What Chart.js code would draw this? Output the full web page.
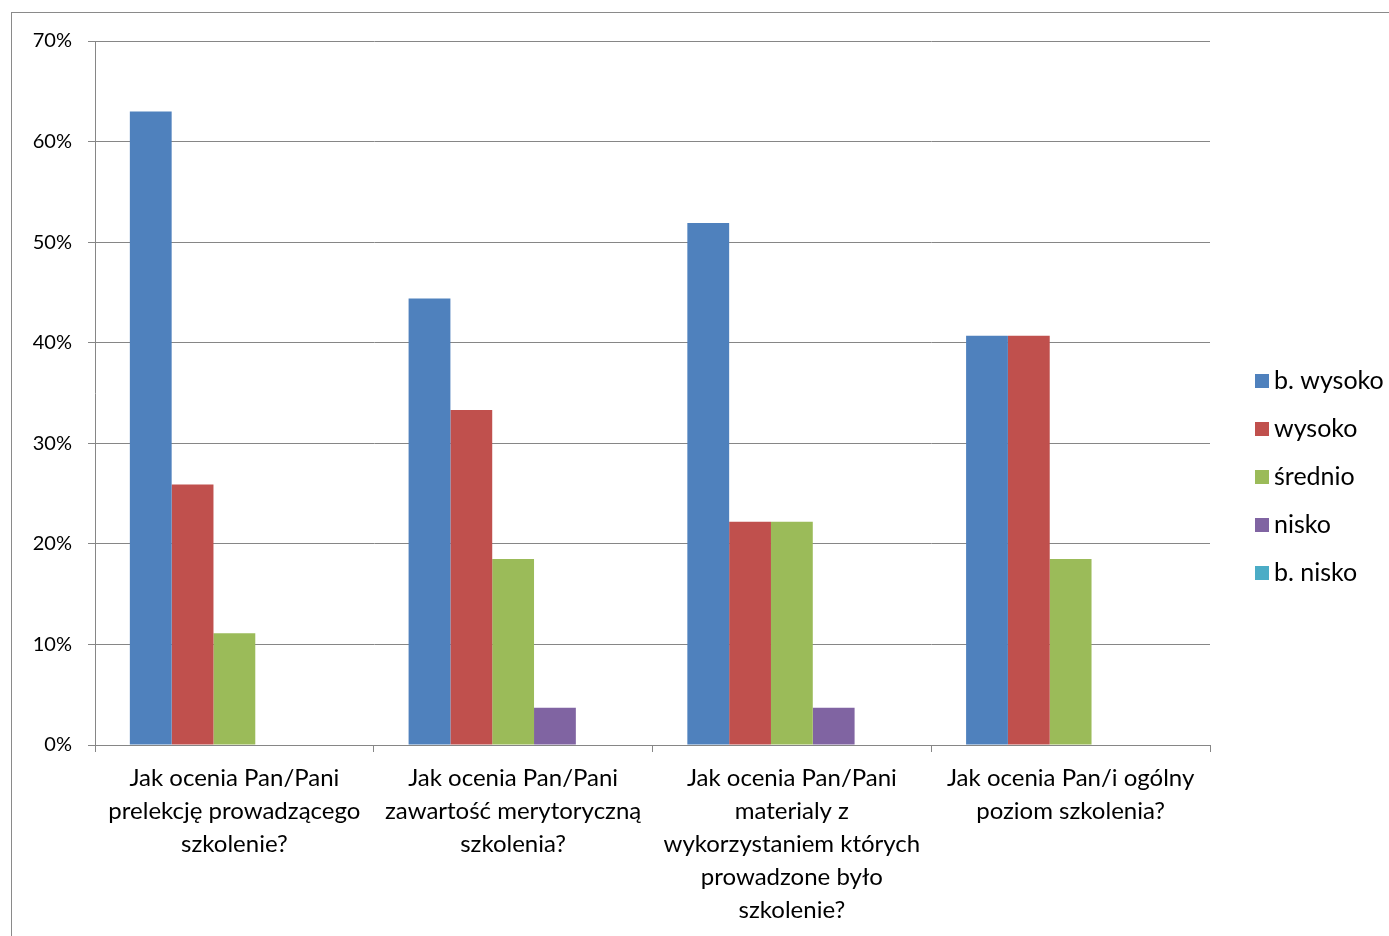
<!DOCTYPE html>
<html>
<head>
<meta charset="utf-8">
<script src="https://cdn.jsdelivr.net/npm/chart.js@4/dist/chart.umd.min.js"></script>
<style>
  html, body { margin: 0; padding: 0; background: #fff; }
  #wrap { width: 1389px; height: 936px; position: relative; }
</style>
</head>
<body>
<div id="wrap"><canvas id="c" width="1389" height="936"></canvas></div>
<script>
const categories = [
  ["Jak ocenia Pan/Pani", "prelekcję prowadzącego", "szkolenie?"],
  ["Jak ocenia Pan/Pani", "zawartość merytoryczną", "szkolenia?"],
  ["Jak ocenia Pan/Pani", "materialy z", "wykorzystaniem których", "prowadzone było", "szkolenie?"],
  ["Jak ocenia Pan/i ogólny", "poziom szkolenia?"]
];
const seriesNames = ["b. wysoko", "wysoko", "średnio", "nisko", "b. nisko"];
const bWysoko = [63.0, 44.4, 51.9, 40.7];
const wysoko  = [25.9, 33.3, 22.2, 40.7];
const srednio = [11.1, 18.5, 22.2, 18.5];
const nisko   = [0, 3.7, 3.7, 0];
const bNisko  = [0, 0, 0, 0];
const yTicks = [0, 10, 20, 30, 40, 50, 60, 70];
const colors = ["#4F81BD", "#C0504D", "#9BBB59", "#8064A2", "#4BACC6"];

const FONT = "Lato, 'Open Sans', sans-serif";
const seriesValues = [bWysoko, wysoko, srednio, nisko, bNisko];

const frame = {
  id: 'frame',
  beforeDraw(chart) {
    const ctx = chart.ctx;
    ctx.save();
    ctx.fillStyle = '#fff';
    ctx.fillRect(0, 0, chart.width, chart.height);
    ctx.strokeStyle = '#8a8a8a';
    ctx.lineWidth = 1;
    ctx.strokeRect(11.5, 12.5, 1500, 1000);
    ctx.restore();
  }
};

const customLegend = {
  id: 'customLegend',
  afterDraw(chart) {
    const ctx = chart.ctx;
    ctx.save();
    ctx.font = "25px " + FONT;
    ctx.textBaseline = 'middle';
    ctx.textAlign = 'left';
    const x0 = chart.chartArea.right + 45;
    let y = 381;
    chart.data.datasets.forEach(ds => {
      ctx.fillStyle = ds.backgroundColor;
      ctx.fillRect(x0, y - 7, 14, 14);
      ctx.fillStyle = '#000';
      ctx.fillText(ds.label, x0 + 19, y);
      y += 48;
    });
    ctx.restore();
  }
};

new Chart(document.getElementById('c'), {
  type: 'bar',
  data: {
    labels: categories,
    datasets: seriesNames.map((n, i) => ({
      label: n,
      data: seriesValues[i],
      backgroundColor: colors[i],
      borderWidth: 0,
      barPercentage: 1.0,
      categoryPercentage: 0.75
    }))
  },
  options: {
    responsive: false,
    animation: false,
    layout: { padding: { top: 41, left: 0, right: 179, bottom: 0 } },
    plugins: { legend: { display: false }, tooltip: { enabled: false } },
    scales: {
      x: {
        grid: { display: true, drawOnChartArea: false, drawTicks: true, tickLength: 7, color: '#868686', offset: true },
        border: { display: true, color: '#868686', width: 1 },
        ticks: {
          color: '#000',
          font: { family: FONT, size: 24, lineHeight: 1.375 },
          padding: 10,
          maxRotation: 0,
          autoSkip: false
        },
        afterFit(scale) { scale.height = 191; }
      },
      y: {
        min: 0, max: 70,
        grid: { color: '#868686', lineWidth: 1, tickLength: 7, drawTicks: true },
        border: { display: true, color: '#868686', width: 1 },
        afterBuildTicks(scale) { scale.ticks = yTicks.map(v => ({ value: v })); },
        ticks: {
          color: '#000',
          font: { family: FONT, size: 20 },
          padding: 16,
          callback: v => v + '%'
        },
        afterFit(scale) { scale.width = 95; }
      }
    }
  },
  plugins: [frame, customLegend]
});
</script>
</body>
</html>
